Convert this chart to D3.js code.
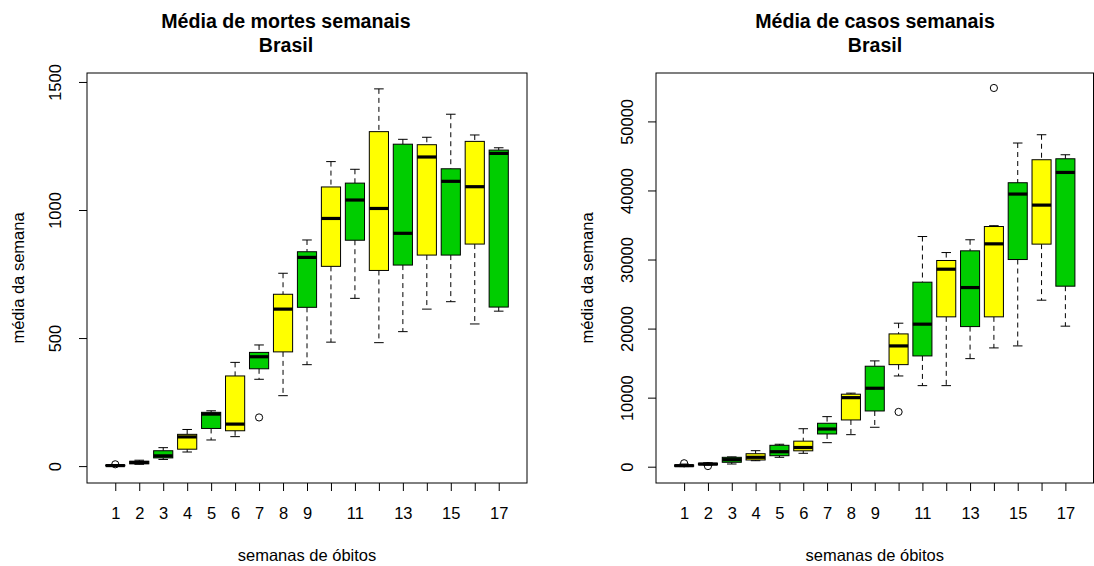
<!DOCTYPE html>
<html>
<head>
<meta charset="utf-8">
<script src="https://cdn.jsdelivr.net/npm/d3@7"></script>
<style>
  body { margin: 0; background: #ffffff; }
  text { font-family: "Liberation Sans", Arial, Helvetica, sans-serif; fill: #000; }
</style>
</head>
<body>
<svg id="chart" width="1094" height="566"></svg>
<script>
// Week numbers on the x axis
const weeks = [1, 2, 3, 4, 5, 6, 7, 8, 9, 10, 11, 12, 13, 14, 15, 16, 17];
// Weeks whose labels are left out of the axis (they would crowd it)
const hiddenWeekLabels = [10, 12, 14, 16];

// Weekly mean of deaths: whisker low, lower quartile, median, upper quartile, whisker high
const deathsLow    = [0, 7, 26, 55, 102, 115, 339, 275, 396, 484, 655, 482, 525, 613, 642, 555, 605];
const deathsQ1     = [1, 9, 32, 66, 147, 138, 380, 446, 620, 780, 882, 764, 785, 824, 824, 867, 621];
const deathsMedian = [2, 14, 40, 114, 203, 164, 427, 613, 815, 967, 1039, 1006, 909, 1207, 1112, 1091, 1221];
const deathsQ3     = [4, 19, 60, 124, 210, 352, 444, 671, 837, 1090, 1105, 1306, 1257, 1255, 1161, 1268, 1234];
const deathsHigh   = [5, 23, 72, 143, 216, 405, 473, 753, 883, 1189, 1159, 1473, 1276, 1284, 1374, 1293, 1243];
const deathsOutliers = [[1, 7], [7, 190]];
const deathsTicks = [0, 500, 1000, 1500];

// Weekly mean of cases
const casesLow    = [20, 230, 390, 870, 1360, 1940, 3480, 4640, 5710, 13140, 11740, 11740, 15650, 17200, 17490, 24110, 20350];
const casesQ1     = [60, 280, 640, 970, 1590, 2300, 4740, 6770, 8070, 14780, 16040, 21700, 20290, 21700, 30000, 32230, 26140];
const casesMedian = [150, 380, 1020, 1360, 2170, 2780, 5460, 10000, 11360, 17490, 20640, 28600, 25940, 32270, 39480, 37880, 42610];
const casesQ3     = [250, 500, 1360, 1880, 3100, 3700, 6290, 10500, 14550, 19230, 26720, 29860, 31260, 34780, 41120, 44450, 44590];
const casesHigh   = [380, 570, 1420, 2320, 3250, 5500, 7250, 10650, 15320, 20780, 33330, 31010, 32860, 34900, 46870, 48070, 45170];
const casesOutliers = [[1, 500], [2, 90], [10, 7930], [14, 54840]];
const casesTicks = [0, 10000, 20000, 30000, 40000, 50000];

// Fill colours, cycled over the boxes
const boxColors = ["#00CD00", "#FFFF00"];

const svg = d3.select("#chart");
const BASE = 16.5;          // base font size
const TOP = 73, BOTTOM = 483;

function drawPanel(p) {
  const rows = weeks.map((w, i) => ({
    week: w, lo: p.low[i], q1: p.q1[i], med: p.median[i], q3: p.q3[i], hi: p.high[i],
    color: boxColors[i % boxColors.length]
  }));

  const x = d3.scaleLinear().domain([-0.18, 18.18]).range([p.left, p.right]);
  const y = d3.scaleLinear().domain(p.yDomain).range([BOTTOM, TOP]);
  const step = x(1) - x(0);
  const boxW = step * 0.8;
  const stapleW = boxW * 0.5;

  const g = svg.append("g");

  const box = g.selectAll("g.box").data(rows).join("g").attr("class", "box");

  // dashed whiskers
  box.append("line")
    .attr("x1", d => x(d.week)).attr("x2", d => x(d.week))
    .attr("y1", d => y(d.hi)).attr("y2", d => y(d.q3))
    .attr("stroke", "#000").attr("stroke-width", 1).attr("stroke-dasharray", "5,4");
  box.append("line")
    .attr("x1", d => x(d.week)).attr("x2", d => x(d.week))
    .attr("y1", d => y(d.q1)).attr("y2", d => y(d.lo))
    .attr("stroke", "#000").attr("stroke-width", 1).attr("stroke-dasharray", "5,4");
  // staples
  box.append("line")
    .attr("x1", d => x(d.week) - stapleW / 2).attr("x2", d => x(d.week) + stapleW / 2)
    .attr("y1", d => y(d.hi)).attr("y2", d => y(d.hi))
    .attr("stroke", "#000").attr("stroke-width", 1);
  box.append("line")
    .attr("x1", d => x(d.week) - stapleW / 2).attr("x2", d => x(d.week) + stapleW / 2)
    .attr("y1", d => y(d.lo)).attr("y2", d => y(d.lo))
    .attr("stroke", "#000").attr("stroke-width", 1);
  // boxes
  box.append("rect")
    .attr("x", d => x(d.week) - boxW / 2)
    .attr("width", boxW)
    .attr("y", d => y(d.q3))
    .attr("height", d => Math.max(0.5, y(d.q1) - y(d.q3)))
    .attr("fill", d => d.color)
    .attr("stroke", "#000").attr("stroke-width", 1);
  // medians
  box.append("line")
    .attr("x1", d => x(d.week) - boxW / 2).attr("x2", d => x(d.week) + boxW / 2)
    .attr("y1", d => y(d.med)).attr("y2", d => y(d.med))
    .attr("stroke", "#000").attr("stroke-width", 3.2);

  // outliers
  g.selectAll("circle.out").data(p.outliers).join("circle")
    .attr("class", "out")
    .attr("cx", d => x(d[0])).attr("cy", d => y(d[1]))
    .attr("r", 3.6).attr("fill", "none").attr("stroke", "#000").attr("stroke-width", 1);

  // frame
  g.append("rect")
    .attr("x", p.left).attr("y", TOP)
    .attr("width", p.right - p.left).attr("height", BOTTOM - TOP)
    .attr("fill", "none").attr("stroke", "#000").attr("stroke-width", 1);

  // x axis
  const xa = g.append("g").attr("transform", `translate(0,${BOTTOM})`)
    .call(d3.axisBottom(x).tickValues(weeks).tickSize(8)
      .tickFormat(d => hiddenWeekLabels.includes(d) ? "" : String(d)));
  xa.select(".domain").remove();
  xa.attr("font-family", null).attr("font-size", null);
  xa.selectAll("line").attr("stroke", "#000");
  xa.selectAll("text").attr("y", 36).attr("dy", null).style("font-size", BASE + "px");

  // y axis
  const ya = g.append("g").attr("transform", `translate(${p.left},0)`)
    .call(d3.axisLeft(y).tickValues(p.yTicks).tickSize(8).tickFormat(d3.format("d")));
  ya.select(".domain").remove();
  ya.attr("font-family", null).attr("font-size", null);
  ya.selectAll("line").attr("stroke", "#000");
  ya.selectAll("text")
    .attr("x", null).attr("dy", null)
    .attr("text-anchor", "middle")
    .attr("transform", `translate(${p.tickLabelX - p.left},0) rotate(-90)`)
    .style("font-size", BASE + "px");

  // axis titles
  g.append("text")
    .attr("x", (p.left + p.right) / 2).attr("y", 561)
    .attr("text-anchor", "middle").style("font-size", BASE + "px")
    .text("semanas de óbitos");
  g.append("text")
    .attr("transform", `translate(${p.yLabelX},${(TOP + BOTTOM) / 2}) rotate(-90)`)
    .attr("text-anchor", "middle").style("font-size", BASE + "px")
    .text("média da semana");

  // title
  const t = g.append("text").attr("text-anchor", "middle")
    .style("font-size", "19.6px").style("font-weight", "bold");
  t.append("tspan").attr("x", p.titleX).attr("y", 28).text(p.title);
  t.append("tspan").attr("x", p.titleX).attr("y", 52).text("Brasil");
}

drawPanel({
  title: "Média de mortes semanais",
  titleX: 286,
  left: 87, right: 527,
  yDomain: [-66, 1535],
  yTicks: deathsTicks,
  tickLabelX: 61, yLabelX: 24,
  low: deathsLow, q1: deathsQ1, median: deathsMedian, q3: deathsQ3, high: deathsHigh,
  outliers: deathsOutliers
});

drawPanel({
  title: "Média de casos semanais",
  titleX: 875,
  left: 656, right: 1093.5,
  yDomain: [-2360, 57010],
  yTicks: casesTicks,
  tickLabelX: 633, yLabelX: 593,
  low: casesLow, q1: casesQ1, median: casesMedian, q3: casesQ3, high: casesHigh,
  outliers: casesOutliers
});
</script>
</body>
</html>
